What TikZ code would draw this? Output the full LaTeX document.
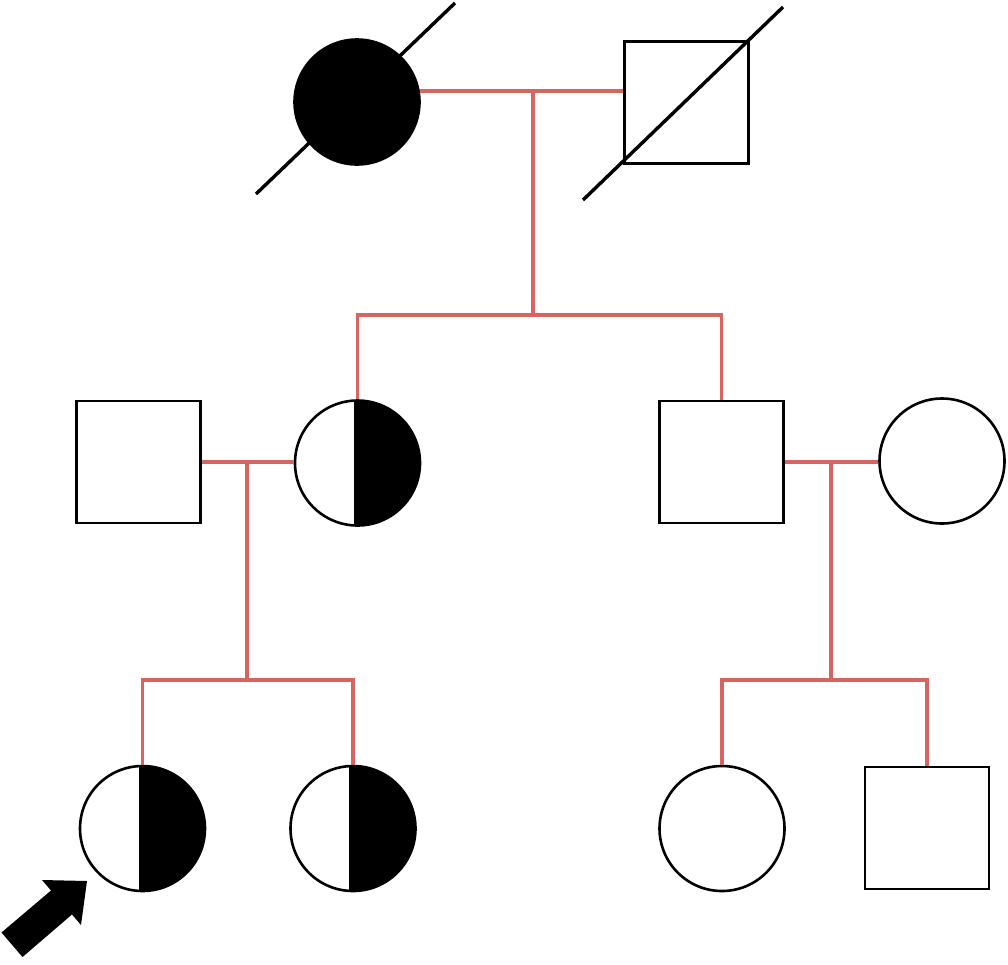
\documentclass[tikz,border=0pt]{standalone}
\usetikzlibrary{calc}
\definecolor{relred}{RGB}{216,100,96}
\tikzset{
  x=1pt, y=-1pt,
  female/.style={circle, draw=black, line width=2.6pt, inner sep=0pt, minimum size=125pt, fill=white},
  male/.style={rectangle, draw=black, line width=2.6pt, inner sep=0pt, minimum width=124pt, minimum height=122pt, fill=white},
  affected/.style={fill=black},
  carrier/.style={path picture={\fill[black] ([xshift=-4pt]path picture bounding box.north) rectangle (path picture bounding box.south east);}},
  rel/.style={draw=relred, line width=3.4pt},
  deceased/.style={draw=black, line width=3.4pt},
  pointer/.style={fill=black}
}
\begin{document}
\begin{tikzpicture}
\useasboundingbox (0,0) rectangle (1008,964);
% Generation I
\node[female, affected] (A) at (357,102) {};
\node[male] (B) at (686.5,102.5) {};
% Generation II
\node[male] (E) at (138.5,462) {};
\node[female, carrier] (C) at (357.5,463) {};
\node[male] (D) at (721.5,462) {};
\node[female] (G) at (942,461) {};
% Generation III
\node[female, carrier] (F1) at (142.5,828.5) {};
\node[female, carrier] (F2) at (353,828.5) {};
\node[female] (H1) at (722,828.5) {};
\node[male] (H2) at (927,828) {};
% deceased slashes
\draw[deceased] (256,194) -- (455,3);
\draw[deceased] (583,200) -- (783,7);
% junction points
\coordinate (m1) at (533,91);
\coordinate (s1) at (533,315);
\coordinate (m2) at (247,462);
\coordinate (s2) at (247,680);
\coordinate (m3) at (831,462);
\coordinate (s3) at (831,680);
% relationships
\draw[rel] (A.10) -- (B.west |- A.10);
\draw[rel] (m1) -- (s1);
\draw[rel] (C.north) |- (s1) -| (D.north);
\draw[rel] (E.east) -- (E.east -| C.west);
\draw[rel] (m2) -- (s2);
\draw[rel] (F1.north) |- (s2) -| (F2.north);
\draw[rel] (D.east) -- (D.east -| G.west);
\draw[rel] (m3) -- (s3);
\draw[rel] (H1.north) |- (s3) -| (H2.north);
% proband arrow
\fill[pointer] (87,881) -- (81,925) -- (72,914.5) -- (22.5,957) -- (1.5,932.5) -- (51,890.5) -- (42,880) -- cycle;
\end{tikzpicture}
\end{document}
